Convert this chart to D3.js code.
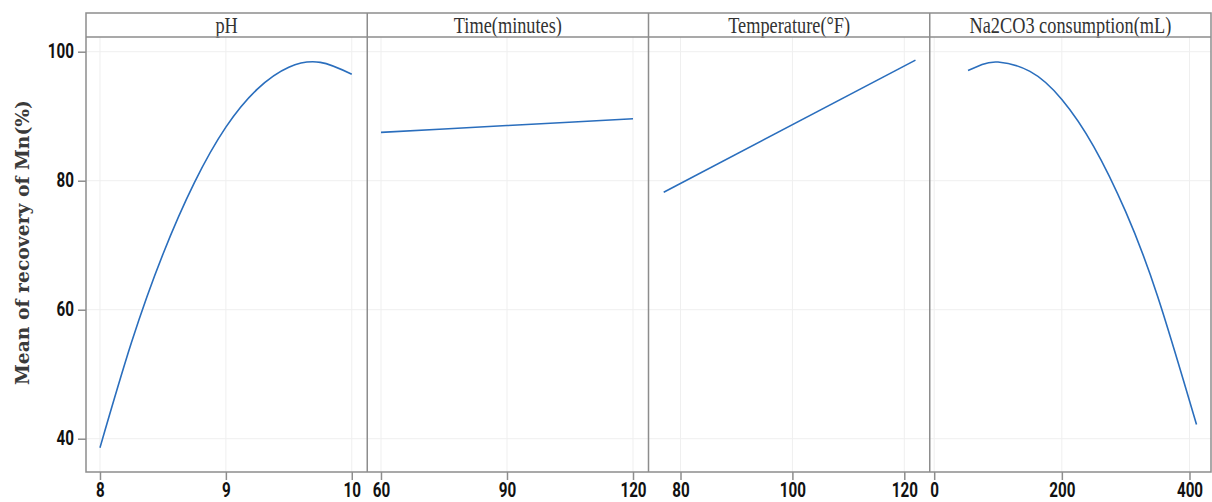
<!DOCTYPE html>
<html>
<head>
<meta charset="utf-8">
<script src="https://cdn.jsdelivr.net/npm/d3@7"></script>
<style>
  html, body { margin: 0; padding: 0; background: #fff; }
  svg { display: block; }
</style>
</head>
<body>
<svg id="chart" width="1212" height="502"></svg>
<script>
// Main effects on mean recovery of Mn, one panel per factor
const factors = ["pH", "Time(minutes)", "Temperature(°F)", "Na2CO3 consumption(mL)"];

const phLevels   = [8, 8.25, 8.5, 8.75, 9, 9.25, 9.5, 9.75, 10];
const phMeans    = [38.6, 54.9, 68.6, 79.7, 88.3, 94.2, 97.6, 98.35, 96.5];

const timeLevels = [60, 90, 120];
const timeMeans  = [87.5, 88.55, 89.6];

const tempLevels = [77, 122];
const tempMeans  = [78.2, 98.7];

const naLevels   = [53, 75, 100, 150, 200, 250, 300, 350, 411];
const naMeans    = [97.1, 98.0, 98.4, 96.95, 92.6, 85.3, 75.2, 62.1, 42.2];

const xTicks = [[8, 9, 10], [60, 90, 120], [80, 100, 120], [0, 200, 400]];
const yTicks = [40, 60, 80, 100];

const series = [
  { x: phLevels,   y: phMeans },
  { x: timeLevels, y: timeMeans },
  { x: tempLevels, y: tempMeans },
  { x: naLevels,   y: naMeans }
];

// scale extents for each panel's horizontal axis
const xExtents = [[7.889, 10.123], [56.73, 123.69], [74.28, 124.55], [-6.97, 433.7]];
const yExtent = [34.84, 102.28];

const svg = d3.select("#chart");
const frameLeft = 86, frameRight = 1211;
const stripTop = 13, stripBottom = 37, plotBottom = 472;
const panelW = (frameRight - frameLeft) / factors.length;

const frameColor = "#8d8d8d";
const gridColor = "#efefef";
const lineColor = "#2a6ebd";
const tickFont = "Roboto, 'Liberation Sans', sans-serif";
const tickSqueeze = "scale(0.78,1)";

const y = d3.scaleLinear().domain(yExtent).range([plotBottom, stripBottom]);

factors.forEach((name, i) => {
  const x0 = frameLeft + i * panelW, x1 = x0 + panelW;
  const x = d3.scaleLinear().domain(xExtents[i]).range([x0, x1]);
  const g = svg.append("g");

  // grid
  g.selectAll("line.gy").data(yTicks).join("line")
    .attr("x1", x0).attr("x2", x1)
    .attr("y1", d => y(d)).attr("y2", d => y(d))
    .attr("stroke", gridColor).attr("stroke-width", 1);
  g.selectAll("line.gx").data(xTicks[i]).join("line")
    .attr("x1", d => x(d)).attr("x2", d => x(d))
    .attr("y1", stripBottom).attr("y2", plotBottom)
    .attr("stroke", gridColor).attr("stroke-width", 1);

  // fitted mean curve
  const s = series[i];
  const pts = s.x.map((v, k) => [v, s.y[k]]);
  g.append("path")
    .datum(pts)
    .attr("fill", "none")
    .attr("stroke", lineColor)
    .attr("stroke-width", 1.6)
    .attr("d", d3.line().x(d => x(d[0])).y(d => y(d[1])).curve(d3.curveNatural));

  // bottom axis
  const ax = svg.append("g")
    .attr("transform", `translate(0,${plotBottom})`)
    .call(d3.axisBottom(x).tickValues(xTicks[i]).tickSize(8).tickPadding(3).tickFormat(d3.format("d")));
  ax.select(".domain").remove();
  ax.selectAll(".tick line").attr("stroke", frameColor).attr("stroke-width", 1.5);
  ax.selectAll(".tick text")
    .attr("fill", "#111")
    .style("font-family", tickFont)
    .style("font-weight", "700")
    .style("font-size", "19.5px")
    .attr("transform", tickSqueeze);

  // strip label
  svg.append("g")
    .attr("transform", `translate(${(x0 + x1) / 2},32.5) scale(1,1.3)`)
    .append("text")
    .attr("text-anchor", "middle")
    .attr("fill", "#333")
    .style("font-family", "'Liberation Serif', 'Times New Roman', serif")
    .style("font-size", "18.3px")
    .text(name);
});

// left axis
const ay = svg.append("g")
  .attr("transform", `translate(${frameLeft},0)`)
  .call(d3.axisLeft(y).tickValues(yTicks).tickSize(8).tickPadding(4));
ay.select(".domain").remove();
ay.selectAll(".tick line").attr("stroke", frameColor).attr("stroke-width", 1.5);
ay.selectAll(".tick text")
  .attr("fill", "#111")
  .attr("x", -12 / 0.78)
  .attr("transform", tickSqueeze)
  .style("font-family", tickFont)
  .style("font-weight", "700")
  .style("font-size", "19.5px");

// panel frame and dividers
const frame = svg.append("g").attr("fill", "none").attr("stroke", frameColor).attr("stroke-width", 1.5);
frame.append("rect")
  .attr("x", frameLeft).attr("y", stripTop)
  .attr("width", frameRight - frameLeft).attr("height", plotBottom - stripTop);
frame.append("line")
  .attr("x1", frameLeft).attr("x2", frameRight)
  .attr("y1", stripBottom).attr("y2", stripBottom);
frame.selectAll("line.div").data(d3.range(1, factors.length)).join("line")
  .attr("x1", d => frameLeft + d * panelW).attr("x2", d => frameLeft + d * panelW)
  .attr("y1", stripTop).attr("y2", plotBottom);

// y title
svg.append("text")
  .attr("transform", "translate(29,242.5) rotate(-90)")
  .attr("text-anchor", "middle")
  .attr("fill", "#3a3a3a")
  .attr("textLength", 285)
  .attr("lengthAdjust", "spacingAndGlyphs")
  .style("font-family", "'DejaVu Serif', serif")
  .style("font-weight", "700")
  .style("font-size", "18.5px")
  .text("Mean of recovery of Mn(%)");
</script>
</body>
</html>
